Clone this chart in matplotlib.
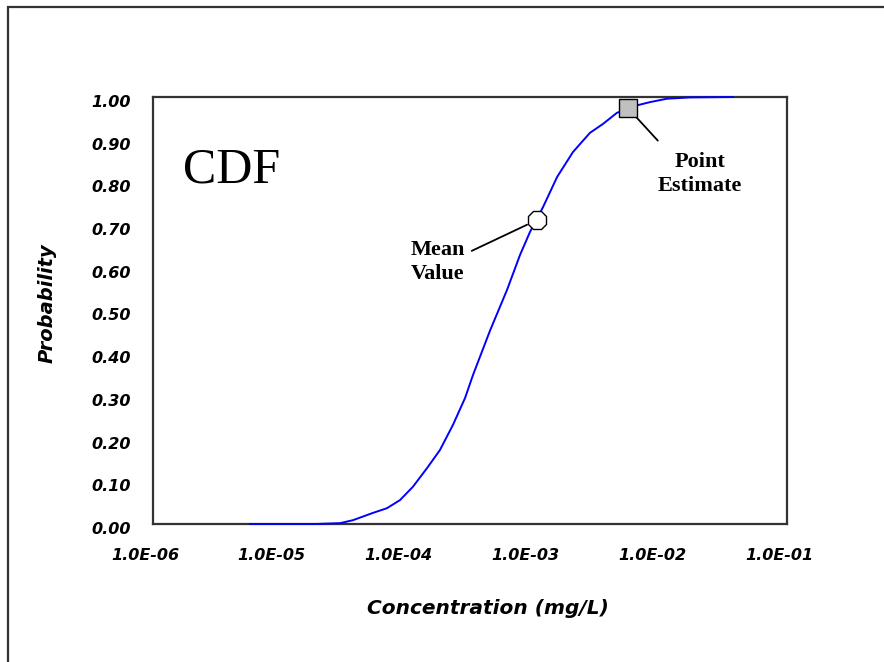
import numpy as np
import matplotlib.pyplot as plt
from matplotlib.patches import Rectangle
from matplotlib.ticker import FixedLocator, FuncFormatter
import matplotlib.transforms as mtransforms

# CDF curve
conc = [5.82e-6, 1.90e-5, 2.99e-5, 3.78e-5, 5.43e-5, 7.00e-5, 8.87e-5, 1.12e-4,
        1.45e-4, 1.83e-4, 2.32e-4, 2.89e-4, 3.34e-4, 4.55e-4, 6.19e-4, 7.84e-4,
        9.40e-4, 1.19e-3, 1.54e-3, 2.05e-3, 2.79e-3, 3.54e-3, 4.56e-3, 6.68e-3,
        8.31e-3, 1.13e-2, 1.72e-2, 3.75e-2]
prob = [0.0, 0.0, 0.002, 0.009, 0.026, 0.037, 0.056, 0.087,
        0.131, 0.173, 0.232, 0.295, 0.349, 0.453, 0.548, 0.630,
        0.684, 0.742, 0.813, 0.871, 0.916, 0.937, 0.963, 0.981,
        0.988, 0.996, 0.999, 1.0]

mean_conc, mean_prob = 1.07e-3, 0.712
point_conc, point_prob = 5.57e-3, 0.974

x_ticks = [1e-6, 1e-5, 1e-4, 1e-3, 1e-2, 1e-1]
y_ticks = np.arange(0, 1.01, 0.1)

fig = plt.figure(figsize=(8.84, 6.62), dpi=100)
fig.patch.set_facecolor('white')

# outer frame (cut off at right and bottom)
fig.patches.append(Rectangle((8 / 884, -0.1), 1.0, 1.0 - 7 / 662 + 0.1,
                             transform=fig.transFigure, fill=False,
                             edgecolor='#333333', linewidth=1.6))

ax = fig.add_axes([153 / 884, 1 - 524 / 662, 634 / 884, 427 / 662])
ax.plot(conc, prob, color='#0000ff', linewidth=1.4, clip_on=False, zorder=3)
ax.plot(mean_conc, mean_prob, marker='8', markersize=14, markerfacecolor='white',
        markeredgecolor='black', markeredgewidth=1.0, linestyle='none', zorder=4)
ax.plot(point_conc, point_prob, marker='s', markersize=12.5, markerfacecolor='#c0c0c0',
        markeredgecolor='black', markeredgewidth=1.0, linestyle='none', zorder=4)

ax.set_xscale('log')
ax.set_xlim(1e-6, 1e-1)
ax.set_ylim(0, 1)
ax.xaxis.set_major_locator(FixedLocator(x_ticks))
ax.xaxis.set_minor_locator(FixedLocator([]))
ax.xaxis.set_major_formatter(FuncFormatter(lambda v, p: '%.1E' % v))
ax.set_yticks(y_ticks)
ax.yaxis.set_major_formatter(FuncFormatter(lambda v, p: '%.2f' % v))
ax.tick_params(length=0)
ax.tick_params(axis='x', pad=17)
ax.tick_params(axis='y', pad=16)
for lab in ax.get_xticklabels() + ax.get_yticklabels():
    lab.set_fontfamily('DejaVu Sans')
    lab.set_fontweight('bold')
    lab.set_fontstyle('oblique')
    lab.set_fontsize(11.5)
offset_x = mtransforms.ScaledTranslation(-8 / 100, 0, fig.dpi_scale_trans)
for lab in ax.get_xticklabels():
    lab.set_transform(lab.get_transform() + offset_x)
offset_y = mtransforms.ScaledTranslation(0, -4 / 100, fig.dpi_scale_trans)
for lab in ax.get_yticklabels():
    lab.set_transform(lab.get_transform() + offset_y)

for s in ax.spines.values():
    s.set_color('#333333')
    s.set_linewidth(1.6)

fig.text(488 / 884, 1 - 609 / 662, 'Concentration (mg/L)', ha='center', va='center',
         fontfamily='DejaVu Sans', fontweight='bold', fontstyle='oblique', fontsize=14.5)
fig.text(47 / 884, 1 - 303 / 662, 'Probability', rotation=90, ha='center', va='center',
         fontfamily='DejaVu Sans', fontweight='bold', fontstyle='oblique', fontsize=14)

ax.text(183 / 884, 1 - 170 / 662, 'CDF', transform=fig.transFigure, ha='left', va='center',
        fontfamily='Liberation Serif', fontsize=36)

ax.annotate('Mean\nValue', xy=(mean_conc, mean_prob), xycoords='data',
            xytext=(438 / 884, 1 - 262 / 662), textcoords='figure fraction',
            ha='center', va='center', fontfamily='Liberation Serif', fontweight='bold',
            fontsize=16, linespacing=1.3,
            arrowprops=dict(arrowstyle='-', color='black', lw=1.3,
                            shrinkA=0, shrinkB=8, relpos=(1.12, 0.75)))
ax.annotate('Point\nEstimate', xy=(point_conc, point_prob), xycoords='data',
            xytext=(700 / 884, 1 - 174 / 662), textcoords='figure fraction',
            ha='center', va='center', fontfamily='Liberation Serif', fontweight='bold',
            fontsize=16, linespacing=1.3,
            arrowprops=dict(arrowstyle='-', color='black', lw=1.3,
                            shrinkA=0, shrinkB=7, relpos=(0.0, 1.25)))

fig.savefig('out.png', dpi=100)
